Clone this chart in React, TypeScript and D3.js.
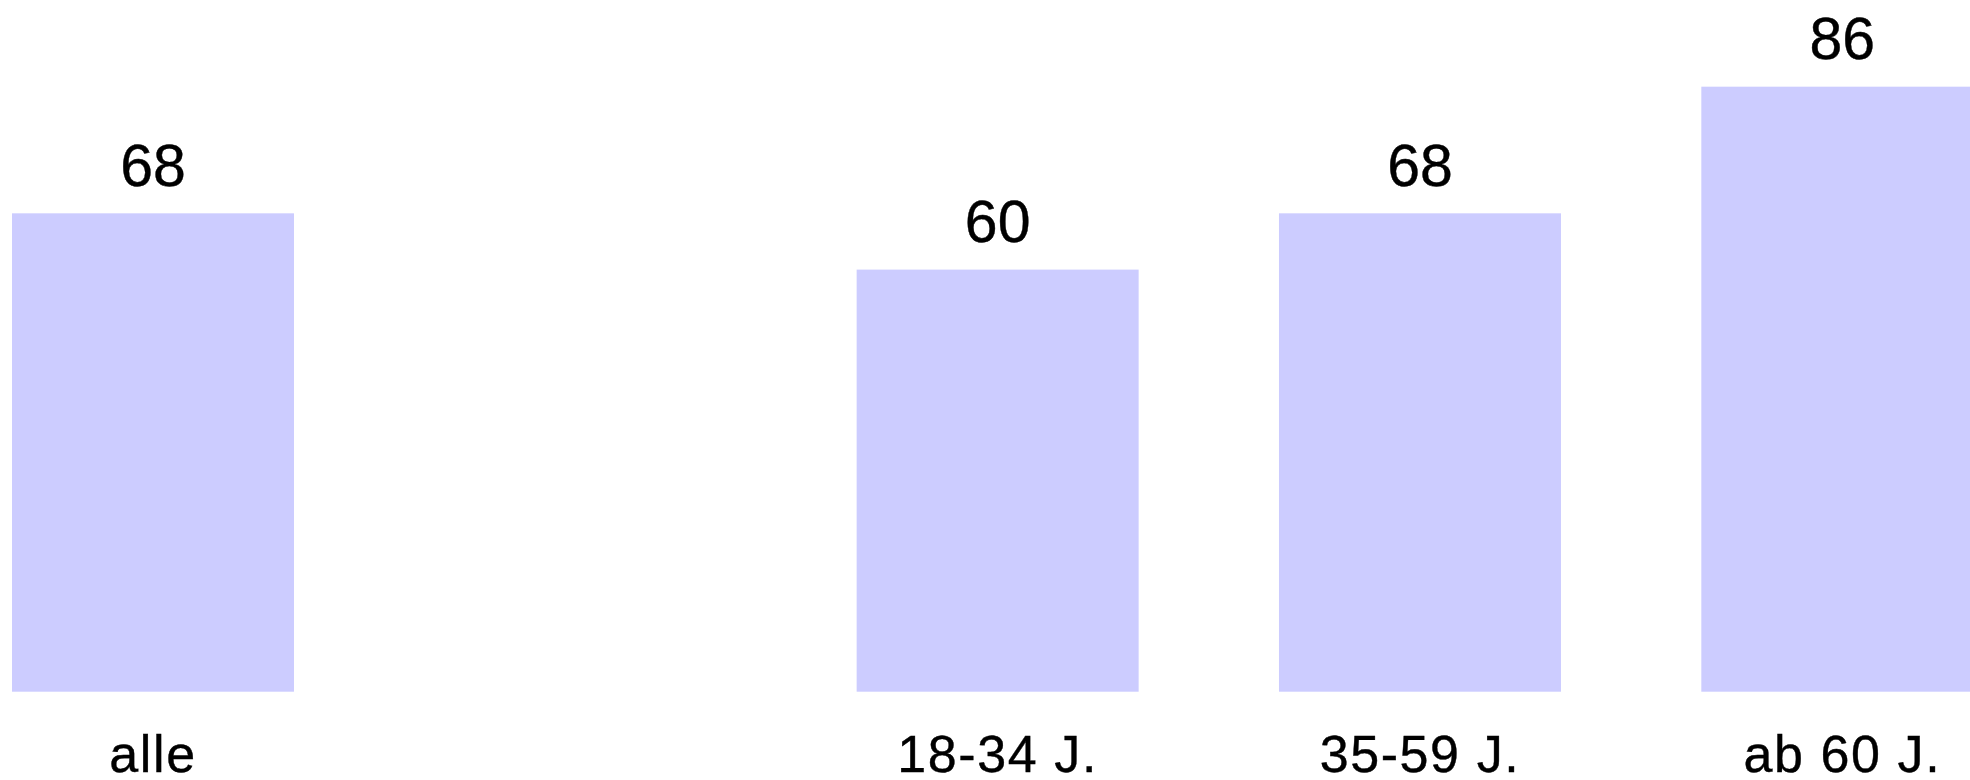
import React from "react";
import * as d3 from "d3";

const categories = ["alle", "", "18-34 J.", "35-59 J.", "ab 60 J."];
const values: (number | null)[] = [68, null, 60, 68, 86];
const valueLabels = ["68", "", "60", "68", "86"];

const W = 1970;
const H = 780;

export default function App() {
  const x = d3
    .scaleBand<string>()
    .domain(categories.map((c, i) => `${i}`))
    .range([12, 1983.3])
    .paddingInner(0.3323)
    .paddingOuter(0);
  const y = d3.scaleLinear().domain([0, 100]).range([691.7, -11.8]);

  return (
    <svg
      width={W}
      height={H}
      style={{ position: "absolute", left: 0, top: 0, display: "block" }}
      fontFamily="'Liberation Sans', Arial, Helvetica, sans-serif"
    >
      <rect x={0} y={0} width={W} height={H} fill="#ffffff" />
      {categories.map((c, i) => {
        const v = values[i];
        const bx = x(`${i}`)!;
        const bw = x.bandwidth();
        const cx = bx + bw / 2;
        return (
          <g key={i}>
            {v !== null && (
              <>
                <rect x={bx} y={y(v)} width={bw} height={y(0) - y(v)} fill="#ccccff" />
                <text
                  x={cx}
                  y={y(v) - 27.5}
                  textAnchor="middle"
                  fontSize={59}
                  fill="#000"
                  stroke="#000"
                  strokeWidth={0.4}
                >
                  {valueLabels[i]}
                </text>
              </>
            )}
            {c && (
              <text
                x={cx}
                y={771.5}
                textAnchor="middle"
                fontSize={52}
                letterSpacing={1.6}
                fill="#000"
                stroke="#000"
                strokeWidth={0.4}
              >
                {c}
              </text>
            )}
          </g>
        );
      })}
    </svg>
  );
}
